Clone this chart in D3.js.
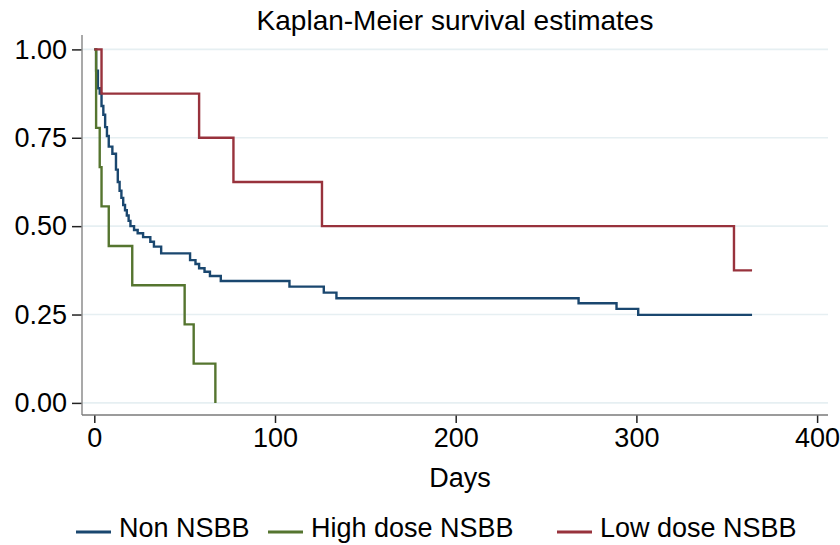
<!DOCTYPE html>
<html>
<head>
<meta charset="utf-8">
<script src="https://cdn.jsdelivr.net/npm/d3@7"></script>
<style>
  body { margin: 0; background: #fff; }
  text { font-family: "Liberation Sans", Arial, sans-serif; fill: #000; }
</style>
</head>
<body>
<svg id="chart" width="840" height="545"></svg>
<script>
// ---- data -------------------------------------------------------------
const chartTitle = "Kaplan-Meier survival estimates";
const xTitle = "Days";
const groupNames = ["Non NSBB", "High dose NSBB", "Low dose NSBB"];
const yTickValues = [0, 0.25, 0.5, 0.75, 1];
const xTickValues = [0, 100, 200, 300, 400];

// Kaplan-Meier steps: [day, survival from that day on]
const nonNSBB = [
  [0, 1], [1, 0.94], [2, 0.89], [3, 0.875], [4, 0.84], [5, 0.815], [6, 0.78],
  [7, 0.755], [8, 0.725], [10, 0.705], [12, 0.66], [13, 0.625], [14, 0.60],
  [15, 0.58], [16, 0.56], [17, 0.545], [18, 0.53], [19, 0.515], [20, 0.50],
  [22, 0.489], [24, 0.48], [27, 0.469], [31, 0.456], [33, 0.442], [37, 0.423],
  [53, 0.404], [56, 0.393], [58, 0.381], [61, 0.371], [64, 0.359], [70, 0.345],
  [108, 0.329], [127, 0.312], [134, 0.296], [268, 0.282], [289, 0.266],
  [301, 0.249], [364, 0.249]
];
const highDoseNSBB = [
  [0, 1], [1, 0.778], [3, 0.667], [4, 0.556], [8, 0.444], [21, 0.333],
  [50, 0.222], [55, 0.111], [67, 0]
];
const lowDoseNSBB = [
  [0, 1], [4, 0.875], [58, 0.75], [77, 0.625], [126, 0.5], [354, 0.375], [364, 0.375]
];
const groupColors = ["#1a476f", "#55752f", "#98323c"];

// ---- layout -------------------------------------------------------------
const svg = d3.select("#chart");
const plot = { left: 82, right: 828, top: 35, bottom: 415 };

const x = d3.scaleLinear().domain([0, 400]).range([94.3, 817.1]);
const y = d3.scaleLinear().domain([0, 1]).range([402.9, 49.4]);

// grid lines
svg.append("g")
  .selectAll("line")
  .data(yTickValues)
  .join("line")
  .attr("x1", plot.left).attr("x2", plot.right)
  .attr("y1", d => y(d)).attr("y2", d => y(d))
  .attr("stroke", "#e6eff2")
  .attr("stroke-width", 1.6);

// axes
const yAxis = svg.append("g")
  .attr("transform", `translate(${plot.left},0)`)
  .call(d3.axisLeft(y).tickValues(yTickValues).tickFormat(d3.format(".2f"))
    .tickSize(10).tickPadding(5));
const xAxis = svg.append("g")
  .attr("transform", `translate(0,${plot.bottom})`)
  .call(d3.axisBottom(x).tickValues(xTickValues).tickFormat(d3.format("d"))
    .tickSize(8).tickPadding(5));

[yAxis, xAxis].forEach(g => {
  g.select(".domain").remove();
  g.selectAll(".tick line").attr("stroke", "#222").attr("stroke-width", 1.5);
  g.selectAll(".tick text")
    .style("font-family", "'Liberation Sans', Arial, sans-serif")
    .style("font-size", "27px")
    .attr("fill", "#000");
});

// axis lines
svg.append("line")
  .attr("x1", plot.left).attr("x2", plot.left)
  .attr("y1", plot.top).attr("y2", plot.bottom)
  .attr("stroke", "#8c8c8c").attr("stroke-width", 1.5);
svg.append("line")
  .attr("x1", plot.left).attr("x2", plot.right)
  .attr("y1", plot.bottom).attr("y2", plot.bottom)
  .attr("stroke", "#7a7a7a").attr("stroke-width", 1.5);

// survival curves
const step = d3.line()
  .x(d => x(d[0]))
  .y(d => y(d[1]))
  .curve(d3.curveStepAfter);

const curves = [nonNSBB, highDoseNSBB, lowDoseNSBB];
svg.append("g")
  .selectAll("path")
  .data(curves)
  .join("path")
  .attr("d", d => step(d))
  .attr("fill", "none")
  .attr("stroke", (d, i) => groupColors[i])
  .attr("stroke-width", 2.4)
  .attr("stroke-linejoin", "miter");

// titles
svg.append("text")
  .attr("x", 455).attr("y", 30)
  .attr("text-anchor", "middle")
  .style("font-size", "28px")
  .text(chartTitle);

svg.append("text")
  .attr("x", 460).attr("y", 487)
  .attr("text-anchor", "middle")
  .style("font-size", "27px")
  .text(xTitle);

// legend
const legendX = [76, 268, 557];
const legend = svg.append("g")
  .selectAll("g")
  .data(groupNames)
  .join("g")
  .attr("transform", (d, i) => `translate(${legendX[i]},532)`);
legend.append("line")
  .attr("x1", 0).attr("x2", 35)
  .attr("y1", 0).attr("y2", 0)
  .attr("stroke", (d, i) => groupColors[i])
  .attr("stroke-width", 3);
legend.append("text")
  .attr("x", 43).attr("y", 5)
  .style("font-size", "27px")
  .text(d => d);
</script>
</body>
</html>
